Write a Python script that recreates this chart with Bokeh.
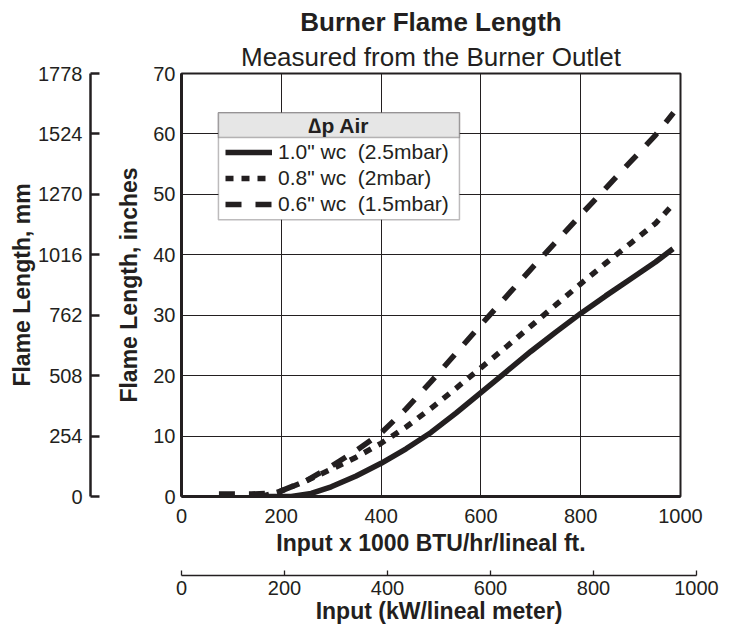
from bokeh.plotting import figure
from bokeh.models import (Range1d, FixedTicker, Legend, LegendItem, BoxAnnotation,
                          Label, Title)
from bokeh.layouts import row, column
from bokeh.embed import file_html
from bokeh.resources import INLINE

INK = "#231f20"
FONT = "Liberation Sans"

# ---------------- data ----------------
x_ticks = [0, 200, 400, 600, 800, 1000]
y_ticks_in = [0, 10, 20, 30, 40, 50, 60, 70]
y_ticks_mm = [0, 254, 508, 762, 1016, 1270, 1524, 1778]
kw_ticks = [0, 200, 400, 600, 800, 1000]

x_10 = [160, 220, 260, 300, 350, 400, 450, 500, 550, 600, 650, 700, 750, 800, 850, 900, 950, 985]
y_10 = [0.0, 0.0, 0.5, 1.6, 3.4, 5.5, 7.9, 10.6, 13.8, 17.2, 20.6, 24.0, 27.2, 30.3, 33.2, 36.0, 38.8, 41.0]

x_08 = [160, 200, 250, 300, 350, 400, 450, 500, 550, 600, 650, 700, 750, 800, 850, 900, 950, 985]
y_08 = [0.0, 0.9, 2.6, 4.5, 6.5, 8.8, 11.5, 14.6, 17.9, 21.3, 24.7, 28.2, 31.7, 35.2, 38.6, 41.9, 45.2, 48.3]

x_06 = [75, 140, 190, 250, 300, 350, 400, 450, 500, 550, 600, 650, 700, 750, 800, 850, 900, 950, 986]
y_06 = [0.4, 0.4, 0.6, 2.6, 5.0, 7.6, 10.5, 14.5, 19.0, 23.7, 28.4, 33.0, 37.6, 42.1, 46.6, 51.0, 55.4, 59.8, 63.5]

series_labels = ['1.0" wc\u00a0 (2.5mbar)', '0.8" wc\u00a0 (2mbar)', '0.6" wc\u00a0 (1.5mbar)']
legend_title = "\u2206p Air"

title_text = "Burner Flame Length"
subtitle_text = "Measured from the Burner Outlet"
x_label = "Input x 1000 BTU/hr/lineal ft."
kw_label = "Input (kW/lineal meter)"
y_label_in = "Flame Length, inches"
y_label_mm = "Flame Length, mm"

TICK_FS = "20px"
LABEL_FS = "23px"


def style_axis(ax):
    ax.major_label_text_font = FONT
    ax.major_label_text_font_size = TICK_FS
    ax.major_label_text_color = INK
    ax.axis_label_text_font = FONT
    ax.axis_label_text_font_size = LABEL_FS
    ax.axis_label_text_font_style = "bold"
    ax.axis_label_text_color = INK
    ax.axis_line_color = INK
    ax.major_tick_line_color = INK
    ax.minor_tick_line_color = None


MAIN_H = 562

# ---------------- left mm axis figure ----------------
pl = figure(width=100, height=MAIN_H, x_range=Range1d(0, 1), y_range=Range1d(0, 1778),
            output_backend="svg", toolbar_location=None, title=None,
            min_border_left=90, min_border_right=0, min_border_top=73,
            min_border_bottom=MAIN_H - 496,
            x_axis_location=None, y_axis_location="left")
pl.outline_line_color = None
pl.grid.visible = False
pl.background_fill_color = None
pl.border_fill_color = None
ya = pl.yaxis[0]
ya.ticker = FixedTicker(ticks=y_ticks_mm)
ya.axis_label = y_label_mm
style_axis(ya)
ya.axis_line_width = 2.5
ya.major_tick_line_width = 2.5
ya.major_tick_in = 9
ya.major_tick_out = 0
ya.major_label_standoff = 8
ya.axis_label_standoff = 0

# ---------------- main figure ----------------
p = figure(width=610, height=MAIN_H, x_range=Range1d(0, 1000), y_range=Range1d(0, 70),
           output_backend="svg", toolbar_location=None, title=None,
           min_border_left=81, min_border_right=30, min_border_top=73,
           min_border_bottom=MAIN_H - 496)
p.border_fill_color = None
p.outline_line_color = INK
p.outline_line_width = 2

p.add_layout(Title(text=subtitle_text, align="center", text_font=FONT, text_font_size="26px",
                   text_font_style="normal", text_color=INK, standoff=4), "above")
p.add_layout(Title(text=title_text, align="center", text_font=FONT, text_font_size="26px",
                   text_font_style="bold", text_color=INK, standoff=1), "above")

xa = p.xaxis[0]
xa.ticker = FixedTicker(ticks=x_ticks)
xa.axis_label = x_label
style_axis(xa)
xa.axis_line_width = 3
xa.major_tick_in = 0
xa.major_tick_out = 0
xa.major_label_standoff = 12
xa.axis_label_standoff = 4

yi = p.yaxis[0]
yi.ticker = FixedTicker(ticks=y_ticks_in)
yi.axis_label = y_label_in
style_axis(yi)
yi.axis_line_width = 3
yi.major_tick_in = 0
yi.major_tick_out = 0
yi.major_label_standoff = 6
yi.axis_label_standoff = 8

p.grid.grid_line_color = INK
p.grid.grid_line_width = 1
p.grid.grid_line_alpha = 1

r10 = p.line(x_10, y_10, line_color=INK, line_width=5.5)
r08 = p.line(x_08, y_08, line_color=INK, line_width=5.5, line_dash="8 8")
r06 = p.line(x_06, y_06, line_color=INK, line_width=5.5, line_dash="16 14")

# legend frame and header
p.add_layout(BoxAnnotation(left=74, right=557, top=63.5, bottom=45.8,
                           fill_color="white", fill_alpha=1,
                           line_color=INK, line_width=1.5))
p.add_layout(BoxAnnotation(left=74, right=557, top=63.5, bottom=59.4,
                           fill_color="#e6e6e6", fill_alpha=1,
                           line_color=INK, line_width=1.5))
p.add_layout(Label(x=315.5, y=61.45, text=legend_title, text_align="center",
                   text_baseline="middle", text_font=FONT, text_font_size="21px",
                   text_font_style="bold", text_color=INK))

legend = Legend(items=[LegendItem(label=series_labels[0], renderers=[r10]),
                       LegendItem(label=series_labels[1], renderers=[r08]),
                       LegendItem(label=series_labels[2], renderers=[r06])],
                location=(44, 280), padding=8, spacing=2, margin=0,
                glyph_width=47, glyph_height=22, label_height=22, label_standoff=6,
                label_text_font=FONT, label_text_font_size="21px", label_text_color=INK,
                background_fill_alpha=0, border_line_color=None)
p.add_layout(legend, "center")

# ---------------- kW axis figure ----------------
KW_H = 65
pk = figure(width=626, height=KW_H, x_range=Range1d(0, 1000), y_range=Range1d(0, 1),
            output_backend="svg", toolbar_location=None, title=None,
            min_border_left=81, min_border_right=25, min_border_top=0,
            min_border_bottom=KW_H - 13,
            y_axis_location=None)
pk.outline_line_color = None
pk.grid.visible = False
pk.background_fill_color = None
pk.border_fill_color = None
ka = pk.xaxis[0]
ka.ticker = FixedTicker(ticks=kw_ticks)
ka.axis_label = kw_label
style_axis(ka)
ka.axis_line_width = 1.3
ka.major_tick_line_width = 1.3
ka.major_tick_in = 5
ka.major_tick_out = 0
ka.major_label_standoff = 5
ka.axis_label_standoff = 0

layout = row(pl, column(p, pk))
open("out.html", "w").write(file_html(layout, INLINE))
